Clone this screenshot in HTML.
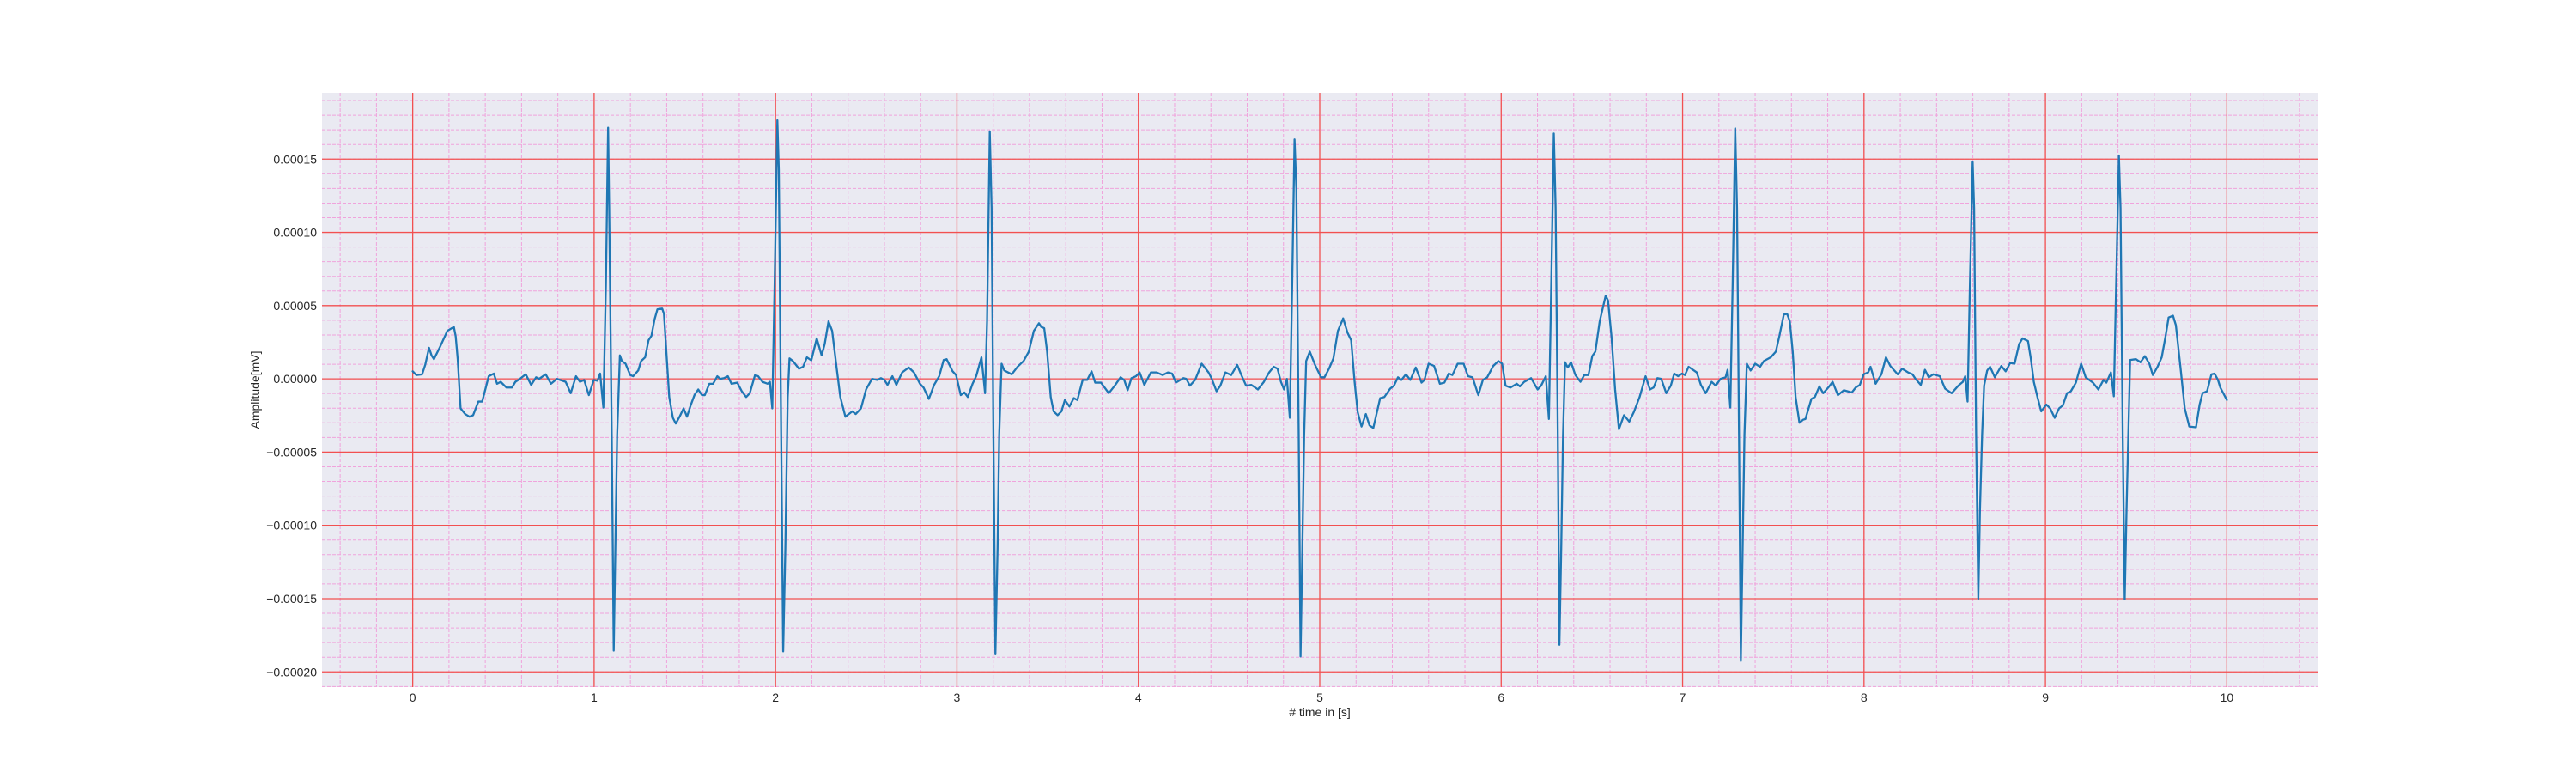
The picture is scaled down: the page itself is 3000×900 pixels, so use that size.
<!DOCTYPE html>
<html><head><meta charset="utf-8">
<style>
html,body{margin:0;padding:0;background:#fff;}
svg{display:block;font-family:"Liberation Sans","DejaVu Sans",sans-serif;}
</style></head>
<body>
<svg id="chart" width="3000" height="900" viewBox="0 0 3000 900" xmlns="http://www.w3.org/2000/svg">
<rect x="0" y="0" width="3000" height="900" fill="#ffffff"/>
<rect x="375" y="108" width="2324" height="692" fill="#eaeaf2"/>
<g id="grid"></g>
<g id="series"></g>
<g id="ticks"></g>
<text x="1537" y="834" font-size="14" fill="#262626" text-anchor="middle"># time in [s]</text>
<text x="0" y="0" font-size="14" fill="#262626" text-anchor="middle" transform="translate(302,454) rotate(-90)">Amplitude[mV]</text>
</svg>
<script>
// Data: time in seconds, amplitude in units of AMP_UNIT mV
const AMP_UNIT = 5e-6;
const times = [0,0.02,0.052,0.069,0.09,0.104,0.117,0.15,0.191,0.215,0.227,0.237,0.248,0.264,0.289,0.313,0.333,0.362,0.383,0.419,0.447,0.465,0.485,0.517,0.547,0.566,0.591,0.623,0.653,0.68,0.697,0.733,0.762,0.795,0.843,0.871,0.9,0.922,0.945,0.971,0.998,1.018,1.033,1.051,1.065,1.077,1.083,1.097,1.108,1.117,1.127,1.142,1.153,1.173,1.199,1.215,1.243,1.259,1.281,1.3,1.316,1.333,1.349,1.375,1.385,1.398,1.414,1.434,1.45,1.471,1.493,1.512,1.532,1.553,1.574,1.594,1.61,1.635,1.656,1.679,1.695,1.716,1.737,1.757,1.789,1.814,1.838,1.858,1.887,1.904,1.928,1.956,1.969,1.982,1.995,2.01,2.018,2.031,2.042,2.054,2.067,2.077,2.096,2.129,2.152,2.173,2.197,2.227,2.254,2.271,2.292,2.312,2.336,2.357,2.385,2.423,2.442,2.471,2.499,
2.532,2.56,2.581,2.6,2.617,2.644,2.666,2.698,2.734,2.763,2.796,2.816,2.845,2.874,2.902,2.927,2.943,2.976,2.995,3.021,3.041,3.06,3.086,3.106,3.135,3.155,3.166,3.181,3.191,3.201,3.212,3.224,3.233,3.246,3.261,3.302,3.334,3.367,3.396,3.424,3.452,3.465,3.481,3.497,3.517,3.533,3.555,3.576,3.595,3.62,3.644,3.664,3.693,3.718,3.742,3.762,3.794,3.837,3.87,3.902,3.922,3.941,3.962,3.987,4.007,4.033,4.069,4.101,4.134,4.163,4.186,4.207,4.248,4.264,4.284,4.313,4.349,4.387,4.403,4.431,4.452,4.48,4.512,4.545,4.566,4.594,4.623,4.659,4.692,4.721,4.746,4.767,4.786,4.803,4.819,4.835,4.848,4.861,4.871,4.884,4.894,4.904,4.914,4.925,4.945,4.974,5.007,
5.026,5.051,5.075,5.1,5.129,5.153,5.173,5.192,5.209,5.23,5.254,5.274,5.295,5.316,5.333,5.356,5.388,5.409,5.431,5.45,5.475,5.499,5.529,5.561,5.577,5.6,5.63,5.662,5.687,5.711,5.731,5.76,5.793,5.817,5.842,5.874,5.899,5.923,5.956,5.985,6.005,6.024,6.051,6.086,6.103,6.127,6.165,6.201,6.22,6.246,6.263,6.276,6.29,6.3,6.312,6.321,6.331,6.341,6.352,6.367,6.385,6.409,6.437,6.458,6.481,6.502,6.519,6.543,6.576,6.589,6.608,6.628,6.649,6.677,6.706,6.731,6.763,6.796,6.82,6.84,6.861,6.882,6.91,6.935,6.954,6.975,6.997,7.013,7.033,7.057,7.078,7.101,7.127,7.16,7.183,7.209,7.237,7.248,7.263,7.276,7.29,7.3,7.311,7.321,7.331,7.341,7.354,7.375,7.4,7.427,7.448,7.486,7.514,
7.533,7.558,7.576,7.591,7.607,7.623,7.644,7.664,7.677,7.71,7.729,7.754,7.775,7.803,7.827,7.856,7.889,7.933,7.954,7.977,7.998,8.023,8.036,8.064,8.096,8.121,8.145,8.186,8.21,8.243,8.267,8.284,8.313,8.336,8.357,8.382,8.418,8.447,8.483,8.52,8.545,8.558,8.571,8.584,8.599,8.607,8.618,8.63,8.639,8.651,8.662,8.679,8.695,8.721,8.757,8.781,8.806,8.83,8.855,8.874,8.904,8.92,8.936,8.956,8.977,9.005,9.026,9.051,9.075,9.096,9.119,9.14,9.168,9.197,9.222,9.262,9.292,9.32,9.336,9.361,9.377,9.39,9.405,9.414,9.426,9.437,9.447,9.457,9.467,9.499,9.524,9.548,9.573,9.592,9.618,9.641,9.662,9.679,9.703,9.719,9.744,9.768,9.793,9.83,9.85,9.866,9.891,9.915,9.932,9.951,9.964,10.0];
const amps = [1.03,0.52,0.62,1.91,4.24,3.2,2.69,4.34,6.56,6.92,7.08,5.79,2.69,-4.03,-4.8,-5.17,-4.96,-3.1,-3.1,0.36,0.72,-0.67,-0.41,-1.19,-1.19,-0.41,0,0.62,-0.83,0.21,0,0.62,-0.67,0,-0.41,-1.96,0.36,-0.41,-0.15,-2.22,-0.15,-0.26,0.72,-3.93,13.0,34.3,23.3,-7.6,-37.1,-23.1,-7.6,3.2,2.43,2.07,0.52,0.36,1.14,2.43,2.94,5.27,5.89,8.11,9.5,9.6,8.88,3.72,-2.48,-5.32,-6.1,-5.17,-4.03,-5.17,-3.62,-2.22,-1.45,-2.22,-2.22,-0.67,-0.67,0.36,0,0.1,0.36,-0.67,-0.52,-1.7,-2.48,-1.96,0.52,0.36,-0.41,-0.67,-0.41,-4.03,13.0,35.3,28.5,-7.6,-37.2,-23.1,-2.48,2.79,2.43,1.39,1.65,2.94,2.53,5.53,3.2,4.75,7.85,6.56,1.65,-2.48,-5.17,-4.44,-4.8,-4.03,-1.45,
0,-0.15,0.1,-0.15,-0.83,0.36,-0.83,0.88,1.55,0.88,-0.67,-1.19,-2.74,-0.83,0.36,2.58,2.69,1.03,0.52,-2.22,-1.86,-2.48,-0.67,0.36,2.94,-1.96,7.85,33.8,23.3,-7.6,-37.6,-23.1,-7.6,2.07,1.14,0.62,1.65,2.43,3.72,6.56,7.59,7.08,6.92,3.72,-2.48,-4.44,-4.96,-4.44,-2.89,-3.77,-2.63,-2.89,-0.15,-0.15,1.03,-0.52,-0.52,-1.96,-0.93,0.21,-0.15,-1.55,0.1,0.36,0.88,-0.83,0.88,0.88,0.52,0.88,0.72,-0.52,0.1,0,-0.93,-0.15,2.07,0.88,0.1,-1.7,-0.93,0.88,0.52,1.91,0.62,-0.93,-0.83,-1.45,-0.41,0.88,1.65,1.39,-0.41,-1.45,0,-5.32,13.0,32.7,25.9,-7.6,-37.9,-23.1,-7.6,2.43,3.72,1.91,0.21,
0.21,1.39,2.79,6.56,8.26,6.3,5.27,-0.41,-4.55,-6.51,-4.8,-6.35,-6.71,-4.44,-2.63,-2.48,-1.34,-0.93,0.21,-0.15,0.62,-0.15,1.55,-0.52,-0.15,2.07,1.76,-0.67,-0.52,0.72,0.52,2.07,2.07,0.36,0.21,-2.22,-0.15,0.21,1.76,2.43,2.07,-0.93,-1.19,-0.67,-1.03,-0.41,0.1,-1.45,-0.93,0.36,-5.48,13.0,33.5,23.3,-7.6,-36.3,-23.1,-7.6,2.27,1.55,2.27,0.52,-0.41,0.52,0.52,3.1,3.72,7.85,11.36,10.7,5.79,-1.45,-6.87,-4.96,-5.84,-4.55,-2.48,0.36,-1.45,-1.19,0.1,0,-1.96,-0.93,0.72,0.36,0.72,0.52,1.65,1.24,0.88,-0.83,-1.96,-0.41,-0.93,0,0.21,1.24,-3.93,13.0,34.2,23.3,-7.6,-38.5,-23.1,-7.6,2.07,1.14,2.07,1.65,2.43,2.94,3.72,
5.79,8.78,8.88,7.85,3.72,-2.48,-5.99,-5.58,-5.48,-2.74,-2.48,-1.03,-1.96,-1.19,-0.41,-2.22,-1.55,-1.86,-1.19,-0.83,0.62,0.88,1.65,-0.67,0.62,2.94,1.76,0.62,1.39,0.88,0.62,0,-0.83,1.24,0.21,0.62,0.36,-1.34,-1.96,-0.93,-0.41,0.36,-3.1,13.0,29.6,23.3,-7.6,-30.0,-18.0,-7.6,-0.93,1.14,1.65,0.21,1.76,1.03,2.17,2.07,4.75,5.53,5.17,2.69,-0.41,-2.48,-4.44,-3.51,-4.03,-5.32,-4.03,-3.62,-1.96,-1.7,-0.52,2.07,0.21,-0.52,-1.45,-0.15,-0.52,0.88,-2.38,13.0,30.5,23.3,-7.6,-30.1,-18.0,-7.6,2.58,2.69,2.27,3.1,2.07,0.52,1.65,2.94,5.79,8.37,8.63,7.33,1.65,-4.03,-6.51,-6.61,-3.51,-1.96,-1.7,0.62,0.72,-0.15,-1.19,-2.89];
const xTickValues = [0,1,2,3,4,5,6,7,8,9,10];
const xTickLabels = ["0","1","2","3","4","5","6","7","8","9","10"];
const yTickValues = [-0.0002,-0.00015,-0.0001,-0.00005,0,0.00005,0.0001,0.00015];
const yTickLabels = ["\u22120.00020","\u22120.00015","\u22120.00010","\u22120.00005","0.00000","0.00005","0.00010","0.00015"];

const NS = "http://www.w3.org/2000/svg";
const L = 375, R = 2699, T = 108, B = 800;
const xMin = -0.5, xMax = 10.5, yMin = -0.0002104, yMax = 0.0001953;
const xs = v => L + (v - xMin) / (xMax - xMin) * (R - L);
const ys = v => B - (v - yMin) / (yMax - yMin) * (B - T);
function mk(tag, attrs, parent) {
  const e = document.createElementNS(NS, tag);
  for (const k in attrs) e.setAttribute(k, attrs[k]);
  parent.appendChild(e);
  return e;
}
const grid = document.getElementById('grid');
// minor grid
for (let i = -2; i <= 52; i++) {
  const v = i * 0.2;
  if (v < xMin || v > xMax) continue;
  const ln = mk('line', {x1: xs(v), x2: xs(v), y1: T, y2: B, stroke: '#f0a3dc', 'stroke-width': 1, 'stroke-dasharray': '4,2'}, grid);
  
  
}
for (let i = -21; i <= 19; i++) {
  const v = i * 0.00001;
  const ln = mk('line', {x1: L, x2: R, y1: ys(v), y2: ys(v), stroke: '#f0a3dc', 'stroke-width': 1, 'stroke-dasharray': '4,2'}, grid);
  
  
}
// major grid
xTickValues.forEach(v => {
  const ln = mk('line', {x1: xs(v), x2: xs(v), y1: T, y2: B, stroke: '#f25050', 'stroke-width': 1.3}, grid);
  
  
});
yTickValues.forEach(v => {
  const ln = mk('line', {x1: L, x2: R, y1: ys(v), y2: ys(v), stroke: '#f25050', 'stroke-width': 1.3}, grid);
  
  
});
// series
const series = document.getElementById('series');
const pts = times.map((t, i) => xs(t).toFixed(2) + ',' + ys(amps[i] * AMP_UNIT).toFixed(2)).join(' ');
const pl = mk('polyline', {points: pts, fill: 'none', stroke: '#1f77b4', 'stroke-width': 2.3, 'stroke-linejoin': 'round', 'stroke-linecap': 'round'}, series);


// tick labels
const ticks = document.getElementById('ticks');
xTickValues.forEach((v, i) => {
  const tx = mk('text', {x: xs(v), y: 817, 'font-size': 14, fill: '#262626', 'text-anchor': 'middle'}, ticks);
  tx.textContent = xTickLabels[i];
  
  
});
yTickValues.forEach((v, i) => {
  const tx = mk('text', {x: 369, y: ys(v) + 5, 'font-size': 14, fill: '#262626', 'text-anchor': 'end'}, ticks);
  tx.textContent = yTickLabels[i];
  
  
});
</script>
</body></html>
